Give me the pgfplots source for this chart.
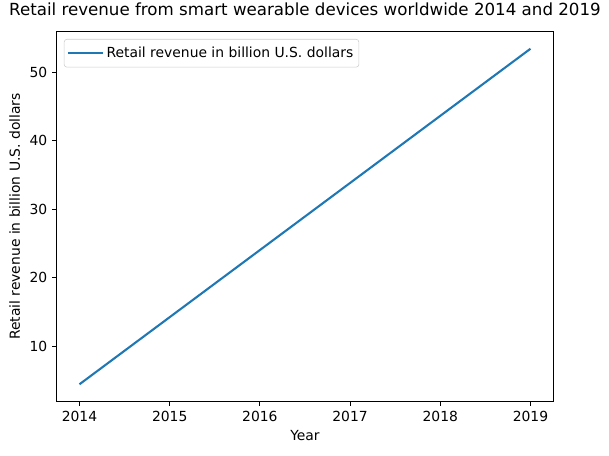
\documentclass[border=0pt]{standalone}
\usepackage{pgfplots}
\pgfplotsset{compat=1.18}
\usepackage{fontspec}
\setmainfont{DejaVu Sans}
\definecolor{mplblue}{HTML}{1F77B4}
\begin{document}
\begin{tikzpicture}
\path[use as bounding box] (-41pt,-38.9pt) rectangle (397.4pt,288.7pt);
\begin{axis}[
  at={(0,0)}, anchor=south west,
  scale only axis, width=357.1pt, height=265.7pt,
  xmin=2013.75, xmax=2019.25, ymin=1.98, ymax=55.85,
  xtick={2014,2015,2016,2017,2018,2019},
  ytick={10,20,30,40,50},
  /pgf/number format/assume math mode=true,
  /pgf/number format/set thousands separator={},
  tick label style={font=\fontsize{10}{12}\selectfont},
  xtick pos=bottom, ytick pos=left,
  tick align=outside, major tick length=3.5pt,
  every tick/.style={black, line width=0.7pt},
  axis line style={line width=0.7pt},
  title={Retail revenue from smart wearable devices worldwide 2014 and 2019},
  title style={font=\fontsize{12}{14}\selectfont, at={(0.5,1)}, anchor=base, yshift=6pt, inner sep=0pt},
  xlabel={Year}, ylabel={Retail revenue in billion U.S. dollars},
  label style={font=\fontsize{10}{12}\selectfont},
  legend style={font=\fontsize{10}{12}\selectfont, draw=black!20, rounded corners=2pt, at={(0.014,0.981)}, anchor=north west, inner xsep=2pt, inner ysep=3.5pt, fill=white, fill opacity=0.8, text opacity=1},
  legend cell align=left,
  legend image code/.code={\draw[#1] (0pt,0pt) -- (20pt,0pt); \path (0pt,0pt) -- (25pt,0pt);},
]
\addplot[mplblue, line width=1.5pt] coordinates {(2014,4.43) (2019,53.4)};
\addlegendentry{Retail revenue in billion U.S. dollars}
\end{axis}
\end{tikzpicture}
\end{document}
